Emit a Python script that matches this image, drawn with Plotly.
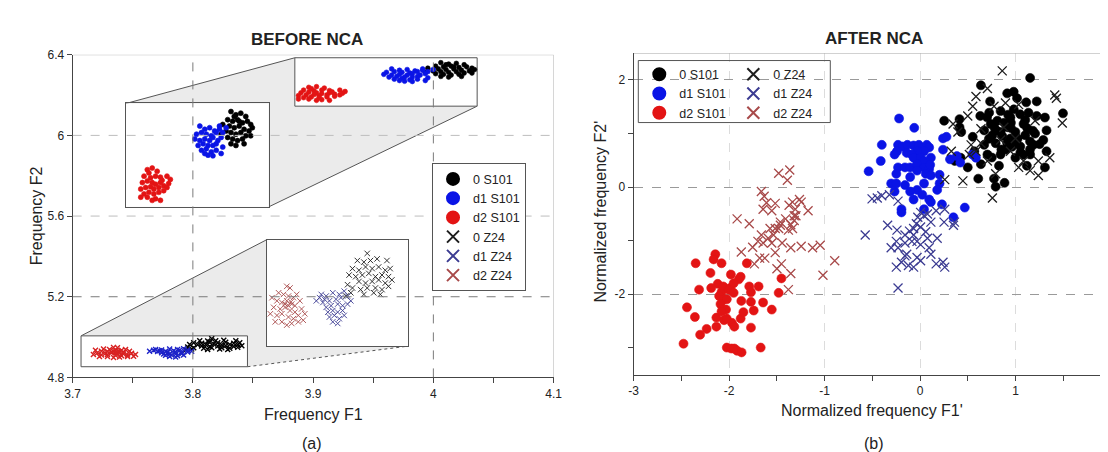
import plotly.graph_objects as go

W, H = 1108, 452
FONT = "Arial, 'Liberation Sans', Helvetica, sans-serif"
TXT = "#222222"

# ---------------- series names / colours ----------------
SERIES = ["0 S101", "d1 S101", "d2 S101", "0 Z24", "d1 Z24", "d2 Z24"]
COLORS = {"0 S101": "#000000", "d1 S101": "#0a14e6", "d2 S101": "#e31414",
          "0 Z24": "#1e1e1e", "d1 Z24": "#3c3c92", "d2 Z24": "#a84a4a"}
# colours of the dense, tiny Z24 marks inside the small zoom window of plot (a)
DENSE_COLORS = {"0 Z24": "#000000", "d1 Z24": "#1c22c8", "d2 Z24": "#d82222"}

# ================= BEFORE NCA (Frequency F1, Frequency F2) =================
before_0_s101_f1 = [4.0062, 4.0127, 4.0191, 4.0256, 4.0019, 4.0084, 4.0148, 4.0213, 4.0277, 4.0321, 3.9954,
                    4.0041, 4.0105, 4.0170, 4.0234, 4.0299, 3.9998, 4.0062, 4.0127, 4.0191, 4.0256, 4.0019,
                    4.0084, 4.0148, 4.0213, 4.0062, 4.0127, 4.0234, 3.9933, 4.0321, 4.0170, 4.0105, 4.0342]
before_0_s101_f2 = [6.3604, 6.3536, 6.3570, 6.3502, 6.3434, 6.3400, 6.3434, 6.3366, 6.3400, 6.3332, 6.3332,
                    6.3298, 6.3264, 6.3298, 6.3230, 6.3196, 6.3196, 6.3162, 6.3128, 6.3162, 6.3094, 6.3060,
                    6.3027, 6.2993, 6.3027, 6.2925, 6.2891, 6.2925, 6.3128, 6.3094, 6.3400, 6.3502, 6.3264]
before_d1_s101_f1 = [3.9653, 3.9718, 3.9782, 3.9847, 3.9610, 3.9675, 3.9739, 3.9804, 3.9868, 3.9911, 3.9954,
                     3.9588, 3.9653, 3.9718, 3.9782, 3.9825, 3.9890, 3.9933, 3.9631, 3.9696, 3.9761, 3.9825,
                     3.9868, 3.9954, 3.9675, 3.9739, 3.9804, 3.9868, 3.9761, 3.9825, 3.9933, 3.9718, 3.9998, 3.9911]
before_d1_s101_f2 = [6.3298, 6.3230, 6.3264, 6.3196, 6.3128, 6.3162, 6.3128, 6.3094, 6.3162, 6.3230, 6.3162,
                     6.3027, 6.2993, 6.3027, 6.2993, 6.3060, 6.2993, 6.3060, 6.2891, 6.2925, 6.2891, 6.2891,
                     6.2925, 6.2857, 6.2789, 6.2823, 6.2755, 6.2789, 6.2687, 6.2673, 6.2721, 6.2721, 6.3264, 6.3298]
before_d2_s101_f1 = [3.8964, 3.9028, 3.9093, 3.8921, 3.9007, 3.9072, 3.9136, 3.9222, 3.9266, 3.8899, 3.8964,
                     3.9028, 3.9072, 3.9136, 3.9179, 3.8942, 3.9007, 3.9050, 3.9115, 3.9222, 3.8878, 3.8921,
                     3.8985, 3.9050, 3.9115, 3.9179, 3.8878, 3.8964, 3.9072, 3.9136, 3.9028, 3.9244, 3.8985, 3.9158]
before_d2_s101_f2 = [6.2382, 6.2416, 6.2348, 6.2246, 6.2212, 6.2246, 6.2225, 6.2246, 6.2178, 6.2110, 6.2144,
                     6.2110, 6.2076, 6.2110, 6.2042, 6.2008, 6.2022, 6.1974, 6.2008, 6.2008, 6.1974, 6.1872,
                     6.1906, 6.1872, 6.1906, 6.1940, 6.1804, 6.1804, 6.1771, 6.1737, 6.1737, 6.2090, 6.2314, 6.2158]

before_0_z24_f1 = [3.8157, 3.8057, 3.8123, 3.8190, 3.8257, 3.8357, 3.8007, 3.8073, 3.8140, 3.8207, 3.8273,
                   3.8340, 3.8390, 3.7973, 3.8040, 3.8107, 3.8173, 3.8240, 3.8307, 3.8373, 3.8073, 3.8140,
                   3.8207, 3.8273, 3.8340, 3.8007, 3.8090, 3.8157, 3.8240, 3.8307, 3.8373, 3.7957, 3.8123,
                   3.8223, 3.8290, 3.8407, 3.7990, 3.7940]
before_0_z24_f2 = [4.9915, 4.9823, 4.9803, 4.9823, 4.9844, 4.9823, 4.9719, 4.9698, 4.9740, 4.9719, 4.9740,
                   4.9698, 4.9719, 4.9636, 4.9615, 4.9636, 4.9657, 4.9615, 4.9636, 4.9615, 4.9553, 4.9532,
                   4.9553, 4.9573, 4.9532, 4.9469, 4.9448, 4.9469, 4.9469, 4.9448, 4.9490, 4.9511, 4.9386,
                   4.9407, 4.9386, 4.9573, 4.9407, 4.9365]
before_d1_z24_f1 = [3.7690, 3.7740, 3.7807, 3.7873, 3.7923, 3.7640, 3.7707, 3.7773, 3.7840, 3.7890, 3.7957,
                    3.7740, 3.7790, 3.7857, 3.7907, 3.7757, 3.7807, 3.7857, 3.7907, 3.7773, 3.7823, 3.7873,
                    3.7923, 3.7807, 3.7857, 3.7957, 3.7990, 3.7673, 3.7723]
before_d1_z24_f2 = [4.9386, 4.9365, 4.9407, 4.9386, 4.9428, 4.9303, 4.9282, 4.9303, 4.9323, 4.9344, 4.9365,
                    4.9219, 4.9240, 4.9261, 4.9240, 4.9157, 4.9178, 4.9157, 4.9178, 4.9094, 4.9115, 4.9073,
                    4.9115, 4.9032, 4.9011, 4.9261, 4.9303, 4.9344, 4.9323]
before_d2_z24_f1 = [3.7340, 3.7373, 3.7257, 3.7307, 3.7357, 3.7407, 3.7440, 3.7190, 3.7240, 3.7290, 3.7340,
                    3.7390, 3.7423, 3.7473, 3.7207, 3.7273, 3.7323, 3.7373, 3.7423, 3.7490, 3.7173, 3.7240,
                    3.7290, 3.7357, 3.7407, 3.7457, 3.7523, 3.7223, 3.7290, 3.7340, 3.7390, 3.7457, 3.7507,
                    3.7357, 3.7323, 3.7383]
before_d2_z24_f2 = [4.9490, 4.9469, 4.9407, 4.9386, 4.9365, 4.9344, 4.9386, 4.9344, 4.9303, 4.9282, 4.9303,
                    4.9261, 4.9240, 4.9303, 4.9219, 4.9198, 4.9219, 4.9178, 4.9157, 4.9198, 4.9136, 4.9115,
                    4.9136, 4.9094, 4.9073, 4.9115, 4.9136, 4.9032, 4.9032, 4.8990, 4.9011, 4.9032, 4.9053,
                    4.9240, 4.9261, 4.9290]

# ================= AFTER NCA (Normalized F1', F2') =================
after_0_s101_f1 = [1.151, 0.636, 0.979, 0.732, 0.911, 1.014, 1.110, 1.220, 1.495, 0.251, 0.412, 0.629, 0.722,
                   0.842, 0.808, 0.945, 1.048, 1.134, 1.220, 1.306, 1.323, 0.412, 0.430, 0.550, 0.670, 0.756,
                   0.842, 0.911, 0.997, 1.100, 1.203, 1.289, 1.323, 0.670, 0.790, 0.911, 1.048, 1.186, 0.567,
                   0.704, 0.842, 0.997, 1.151, 0.636, 0.825, 1.117, 1.306, 0.608, 0.773, 0.790, 0.883, 0.423,
                   0.361, 0.498, 0.945, 1.082, 0.739, 0.860, 0.950, 1.000, 0.780, 1.120, 0.900, 1.050, 0.720,
                   1.150, 0.980, 0.700, 0.800, 0.880, 0.950, 1.020, 1.100, 1.180, 0.850, 0.960, 1.080, 1.250,
                   0.750, 0.920, 1.150]
after_0_s101_f2 = [2.036, 1.898, 1.778, 1.598, 1.748, 1.658, 1.580, 1.598, 1.375, 1.237, 1.267, 1.327, 1.387,
                   1.417, 1.237, 1.297, 1.357, 1.387, 1.327, 1.297, 1.057, 1.117, 1.027, 0.937, 1.057, 0.967,
                   1.027, 1.117, 1.027, 0.967, 0.997, 0.877, 0.667, 0.787, 0.817, 0.817, 0.757, 0.787, 0.667,
                   0.607, 0.607, 0.547, 0.607, 0.426, 0.396, 0.396, 0.366, 0.156, 0.156, 0.006, 0.078, 0.547,
                   0.487, 0.366, 0.907, 1.177, 1.177, 0.950, 1.200, 0.850, 1.100, 1.100, 0.700, 0.650, 0.900,
                   0.850, 1.450, 1.300, 1.050, 1.200, 1.100, 0.900, 1.250, 1.050, 0.700, 0.750, 0.600, 0.800,
                   0.550, 1.350, 0.700]
after_d1_s101_f1 = [-0.221, -0.062, -0.402, -0.232, -0.185, -0.134, -0.069, -0.014, 0.069, 0.094, 0.040, -0.033,
                    -0.243, -0.268, -0.141, -0.087, -0.413, -0.069, 0.004, 0.040, 0.112, 0.239, 0.239, 0.275,
                    -0.540, -0.232, -0.159, -0.105, -0.033, 0.040, 0.094, -0.250, -0.105, 0.058, 0.203, 0.112,
                    -0.304, -0.250, -0.159, -0.268, 0.040, 0.203, -0.033, -0.069, 0.094, 0.112, 0.228, -0.196,
                    0.040, -0.196, 0.348, 0.467, 0.312, 0.384, 0.420, 0.547, 0.583, 0.022, -0.105, 0.105,
                    -0.033, 0.178]
after_d1_s101_f2 = [1.279, 1.105, 0.787, 0.787, 0.757, 0.787, 0.775, 0.787, 0.787, 0.739, 0.667, 0.667,
                    0.667, 0.607, 0.637, 0.607, 0.486, 0.547, 0.547, 0.486, 0.547, 0.697, 0.907, 0.937,
                    0.294, 0.366, 0.366, 0.366, 0.426, 0.366, 0.336, 0.246, 0.186, 0.246, 0.228, 0.216,
                    0.066, 0.066, 0.036, -0.084, 0.066, 0.066, -0.054, -0.234, -0.234, -0.282, -0.324, -0.414,
                    -0.414, -0.474, -0.565, -0.384, 0.517, 0.577, 0.456, 0.607, 0.547, -0.144, -0.084, 0.414,
                    0.306, -0.054]
after_d2_s101_f1 = [-2.478, -2.351, -2.442, -2.315, -2.359, -2.304, -2.236, -2.134, -2.145, -2.163, -2.196,
                    -2.120, -2.080, -2.062, -2.105, -2.054, -2.007, -1.989, -1.953, -2.025, -2.033, -2.091,
                    -2.134, -2.080, -2.054, -1.971, -1.946, -2.025, -1.978, -1.946, -1.917, -1.870, -1.880,
                    -1.851, -1.873, -1.899, -1.880, -1.815, -1.790, -1.772, -1.772, -1.772, -1.743, -1.692,
                    -1.645, -1.554, -1.670, -1.482, -1.453, -2.080, -2.188, -1.953, -1.982, -2.025]
after_d2_s101_f2 = [-2.925, -1.423, -2.246, -1.916, -2.426, -2.757, -2.649, -2.607, -1.255, -1.351, -1.604,
                    -1.808, -1.958, -1.856, -2.036, -2.096, -1.916, -1.886, -1.976, -2.096, -2.288, -2.186,
                    -2.438, -2.324, -2.486, -2.535, -2.607, -2.997, -3.015, -3.015, -3.057, -3.087, -2.456,
                    -2.336, -2.126, -1.724, -1.676, -1.423, -1.856, -1.964, -2.625, -2.144, -2.306, -1.856,
                    -2.156, -2.288, -2.997, -1.976, -1.706, -1.423, -1.886, -1.796, -1.634, -2.456]

after_0_z24_f1 = [0.859, 0.704, 0.584, 0.550, 0.498, 0.344, 0.395, 1.409, 1.426, 1.488, 0.893, 1.031, 1.203,
                  1.357, 1.237, 1.151, 0.447, 0.756, 0.636, 0.533, 0.584, 0.704, 0.945, 0.997, 0.842, 0.636,
                  1.031, 1.082, 1.237, 0.790, 0.326, 0.515, 0.876, 0.773, 0.257]
after_0_z24_f2 = [2.168, 1.838, 1.688, 1.508, 1.327, 1.177, 1.027, 1.718, 1.658, 1.195, 1.568, 1.538, 1.237,
                  0.547, 0.216, 0.306, 0.114, -0.204, 0.817, 0.787, 0.667, 0.487, 0.667, 0.907, 0.877, 1.087,
                  0.366, 0.487, 0.487, 0.246, 0.667, 0.607, 1.117, 1.508, 0.138]
after_d1_z24_f1 = [-0.504, -0.449, -0.402, -0.232, -0.322, -0.576, -0.341, -0.243, -0.159, -0.112, -0.069,
                   -0.040, -0.025, 0.004, 0.076, 0.167, 0.257, 0.359, 0.348, 0.250, 0.112, 0.040, -0.087,
                   -0.159, -0.304, -0.232, -0.141, -0.033, 0.004, 0.094, 0.178, 0.076, -0.159, -0.196, -0.250,
                   -0.123, -0.069, -0.033, 0.004, 0.167, 0.239, 0.257, -0.232, -0.069, 0.058, 0.004, -0.250,
                   0.112]
after_d1_z24_f2 = [-0.222, -0.204, -0.162, -0.264, -0.144, -0.895, -0.715, -0.805, -0.895, -0.823, -0.775,
                   -0.685, -0.565, -0.474, -0.505, -0.444, -0.414, -0.655, -0.715, -0.655, -0.655, -0.535,
                   -1.015, -1.045, -1.135, -1.135, -1.255, -1.015, -1.075, -1.135, -0.955, -0.955, -1.285,
                   -1.405, -1.495, -1.465, -1.495, -1.315, -1.375, -1.435, -1.405, -1.495, -1.886, -0.895,
                   -0.835, -0.745, -1.015, -1.255]
after_d2_z24_f1 = [-1.482, -1.366, -1.391, -1.663, -1.634, -1.609, -1.518, -1.554, -1.645, -1.373, -1.337,
                   -1.308, -1.264, -1.246, -1.174, -1.319, -1.409, -1.464, -1.355, -1.337, -1.380, -1.482,
                   -1.518, -1.572, -1.536, -1.663, -1.645, -1.754, -1.873, -1.917, -1.790, -1.591, -1.464,
                   -1.319, -1.301, -1.446, -1.518, -1.627, -1.681, -1.736, -1.500, -1.453, -1.355, -1.246,
                   -1.127, -1.047, -0.895, -1.018, -1.355, -1.380, -1.554, -1.699]
after_d2_z24_f2 = [0.258, 0.318, 0.126, -0.084, -0.174, -0.294, -0.306, -0.444, -0.414, -0.342, -0.282,
                   -0.414, -0.234, -0.282, -0.444, -0.535, -0.595, -0.655, -0.703, -0.775, -0.805, -0.775,
                   -0.775, -0.775, -0.895, -0.895, -1.045, -1.123, -1.213, -0.595, -0.685, -0.955, -0.715,
                   -0.625, -0.535, -1.045, -1.225, -1.327, -1.327, -1.435, -1.526, -1.435, -1.135, -1.105,
                   -1.135, -1.087, -1.375, -1.646, -1.616, -1.916, -1.045, -1.015]

# ---------------- axis ranges / ticks ----------------
A_X_RANGE = [3.7, 4.1]
A_Y_RANGE = [4.8, 6.4]
A_X_TICKS = [3.7, 3.8, 3.9, 4.0, 4.1]
A_X_TICKTEXT = ["3.7", "3.8", "3.9", "4", "4.1"]
A_X_MINOR = [3.75, 3.85, 3.95, 4.05]
A_Y_TICKS = [4.8, 5.2, 5.6, 6.0, 6.4]
A_Y_TICKTEXT = ["4.8", "5.2", "5.6", "6", "6.4"]
A_VGRID = [3.8, 4.0]
A_HGRID_DARK = [5.2]
A_HGRID_LIGHT = [5.6, 6.0]

B_X_RANGE = [-3.0, 1.956]
B_Y_RANGE = [-3.5, 2.5]
B_X_TICKS = [-3, -2, -1, 0, 1]
B_X_TICKTEXT = ["-3", "-2", "-1", "0", "1"]
B_X_MINOR = [-2.5, -1.5, -0.5, 0.5, 1.5]
B_Y_TICKS = [-2, 0, 2]
B_Y_TICKTEXT = ["-2", "0", "2"]
B_Y_MINOR = [-3, -1, 1]

# zoom windows in the BEFORE plot (data units) and the inset views of them
S101_WIN_X, S101_WIN_Y = [3.8848, 4.0364], [6.145, 6.385]
Z24_WIN_X, Z24_WIN_Y = [3.707, 3.8454], [4.853, 5.006]
S101_INSET_X, S101_INSET_Y = [3.8684, 4.0558], [6.160, 6.3774]
Z24_INSET_X, Z24_INSET_Y = [3.714, 3.8573], [4.8719, 5.0094]

# ---------------- layout geometry (pixels) ----------------
A_BOX = (57.5, 546.0, 41.0, 374.0)      # x0, x1, top, bottom
B_BOX = (627.3, 1108.0, 39.3, 371.0)
S101_INSET_BOX = (111.7, 256.7, 91.3, 198.0)
Z24_INSET_BOX = (255.0, 398.3, 231.7, 341.7)


def dx(b):
    return [b[0] / W, b[1] / W]


def dy(b):
    return [1 - b[3] / H, 1 - b[2] / H]


def px2paper(px, py):
    return px / W, 1 - py / H


def a_data2px(x, y):
    px = A_BOX[0] + (x - A_X_RANGE[0]) / (A_X_RANGE[1] - A_X_RANGE[0]) * (A_BOX[1] - A_BOX[0])
    py = A_BOX[2] + (A_Y_RANGE[1] - y) / (A_Y_RANGE[1] - A_Y_RANGE[0]) * (A_BOX[3] - A_BOX[2])
    return px, py


before = {
    "0 S101": (before_0_s101_f1, before_0_s101_f2),
    "d1 S101": (before_d1_s101_f1, before_d1_s101_f2),
    "d2 S101": (before_d2_s101_f1, before_d2_s101_f2),
    "0 Z24": (before_0_z24_f1, before_0_z24_f2),
    "d1 Z24": (before_d1_z24_f1, before_d1_z24_f2),
    "d2 Z24": (before_d2_z24_f1, before_d2_z24_f2),
}
after = {
    "0 S101": (after_0_s101_f1, after_0_s101_f2),
    "d1 S101": (after_d1_s101_f1, after_d1_s101_f2),
    "d2 S101": (after_d2_s101_f1, after_d2_s101_f2),
    "0 Z24": (after_0_z24_f1, after_0_z24_f2),
    "d1 Z24": (after_d1_z24_f1, after_d1_z24_f2),
    "d2 Z24": (after_d2_z24_f1, after_d2_z24_f2),
}


def marker(name, size, lw, color=None):
    c = color or COLORS[name]
    if "S101" in name:
        return dict(symbol="circle", size=size, color=c, line=dict(width=0.6, color=c))
    return dict(symbol="x-thin", size=size, color=c, line=dict(width=lw, color=c))


fig = go.Figure()

# BEFORE: main view
for name in SERIES:
    x, y = before[name]
    if "S101" in name:
        fig.add_trace(go.Scatter(x=x, y=y, mode="markers", name=name, xaxis="x", yaxis="y",
                                 legend="legend", marker=marker(name, 4.8, 1)))
    else:
        # dense tiny marks in the zoom window (no legend); legend entry added separately below
        fig.add_trace(go.Scatter(x=x, y=y, mode="markers", name=name, xaxis="x", yaxis="y",
                                 showlegend=False, marker=marker(name, 5, 1.4, DENSE_COLORS[name])))
for name in SERIES:
    if "Z24" in name:
        # legend-only entry (no visible point)
        fig.add_trace(go.Scatter(x=[None], y=[None], mode="markers", name=name, xaxis="x", yaxis="y",
                                 legend="legend", showlegend=True, marker=marker(name, 9, 1.3)))
# BEFORE: inset views
for name in SERIES:
    x, y = before[name]
    if "S101" in name:
        fig.add_trace(go.Scatter(x=x, y=y, mode="markers", showlegend=False, xaxis="x3", yaxis="y3",
                                 marker=marker(name, 5, 1)))
    else:
        fig.add_trace(go.Scatter(x=x, y=y, mode="markers", showlegend=False, xaxis="x4", yaxis="y4",
                                 marker=marker(name, 5.5, 0.9)))

# AFTER
for name in SERIES:
    x, y = after[name]
    fig.add_trace(go.Scatter(x=x, y=y, mode="markers", name=name, xaxis="x2", yaxis="y2",
                             legend="legend2" if "S101" in name else "legend3",
                             marker=marker(name, 9, 1.3)))

axis_font = dict(family=FONT, size=12, color=TXT)
common = dict(showgrid=False, zeroline=False, ticks="outside", ticklen=5, tickwidth=1,
              tickcolor="#444", showline=True, linecolor="#444", linewidth=1, tickfont=axis_font)

shapes = []
# --- shaded zoom funnels (below) ---
s_tl = a_data2px(S101_WIN_X[0], S101_WIN_Y[1])
s_tr = a_data2px(S101_WIN_X[1], S101_WIN_Y[1])
s_br = a_data2px(S101_WIN_X[1], S101_WIN_Y[0])
ib = S101_INSET_BOX
poly = [(ib[0], ib[3]), (ib[0], ib[2]), s_tl, s_tr, s_br, (ib[1], ib[3])]
path = "M " + " L ".join("%.5f,%.5f" % px2paper(*p) for p in poly) + " Z"
shapes.append(dict(type="path", xref="paper", yref="paper", path=path, fillcolor="#ebebeb",
                   line=dict(width=0), layer="below"))
z_tl = a_data2px(Z24_WIN_X[0], Z24_WIN_Y[1])
z_bl = a_data2px(Z24_WIN_X[0], Z24_WIN_Y[0])
z_br = a_data2px(Z24_WIN_X[1], Z24_WIN_Y[0])
jb = Z24_INSET_BOX
poly2 = [z_bl, z_tl, (jb[0], jb[2]), (jb[1], jb[2]), (jb[1], jb[3]), z_br]
path2 = "M " + " L ".join("%.5f,%.5f" % px2paper(*p) for p in poly2) + " Z"
shapes.append(dict(type="path", xref="paper", yref="paper", path=path2, fillcolor="#ebebeb",
                   line=dict(width=0), layer="below"))
# connectors
for (p0, p1, dash) in [((ib[0], ib[2]), s_tl, "solid"), ((ib[1], ib[3]), s_br, "solid"),
                       (z_tl, (jb[0], jb[2]), "solid"), (z_br, (jb[1], jb[3]), "dot")]:
    a0 = px2paper(*p0)
    a1 = px2paper(*p1)
    shapes.append(dict(type="line", xref="paper", yref="paper", x0=a0[0], y0=a0[1], x1=a1[0], y1=a1[1],
                       line=dict(color="#555555", width=1, dash=dash), layer="below"))
# white zoom-window boxes
for wx, wy in [(S101_WIN_X, S101_WIN_Y), (Z24_WIN_X, Z24_WIN_Y)]:
    shapes.append(dict(type="rect", xref="x", yref="y", x0=wx[0], x1=wx[1], y0=wy[0], y1=wy[1],
                       fillcolor="white", line=dict(color="#555555", width=1), layer="below"))
# dashed grid of BEFORE plot (drawn over the insets)
for gx in A_VGRID:
    shapes.append(dict(type="line", xref="x", yref="y", x0=gx, x1=gx, y0=A_Y_RANGE[0], y1=A_Y_RANGE[1],
                       line=dict(color="#7a7a7a", width=1, dash="dash"), layer="above"))
for gy in A_HGRID_DARK + A_HGRID_LIGHT:
    col = "#7a7a7a" if gy in A_HGRID_DARK else "#bdbdbd"
    shapes.append(dict(type="line", xref="x", yref="y", x0=A_X_RANGE[0], x1=A_X_RANGE[1], y0=gy, y1=gy,
                       line=dict(color=col, width=1, dash="dash"), layer="above"))
# light top/right frame of BEFORE plot, top frame of AFTER plot
shapes.append(dict(type="line", xref="x", yref="y", x0=A_X_RANGE[0], x1=A_X_RANGE[1], y0=A_Y_RANGE[1],
                   y1=A_Y_RANGE[1], line=dict(color="#b5b5b5", width=1)))
shapes.append(dict(type="line", xref="x", yref="y", x0=A_X_RANGE[1], x1=A_X_RANGE[1], y0=A_Y_RANGE[0],
                   y1=A_Y_RANGE[1], line=dict(color="#b5b5b5", width=1)))
shapes.append(dict(type="line", xref="x2", yref="y2", x0=B_X_RANGE[0], x1=B_X_RANGE[1], y0=B_Y_RANGE[1],
                   y1=B_Y_RANGE[1], line=dict(color="#b0b0b0", width=1)))
# legend frame of AFTER plot
lb = (632, 827, 47, 111)
l0 = px2paper(lb[0], lb[3])
l1 = px2paper(lb[1], lb[2])
shapes.append(dict(type="rect", xref="paper", yref="paper", x0=l0[0], y0=l0[1], x1=l1[0], y1=l1[1],
                   line=dict(color="#555555", width=1), fillcolor="rgba(0,0,0,0)", layer="above"))

inset_axis = dict(showgrid=False, zeroline=False, showticklabels=False, ticks="", showline=True,
                  mirror=True, linecolor="#555555", linewidth=1, fixedrange=True)

annotations = []


def ann(text, px, py, size=16, bold=False, angle=0):
    x, y = px2paper(px, py)
    annotations.append(dict(text=("<b>%s</b>" % text) if bold else text, x=x, y=y, xref="paper",
                            yref="paper", showarrow=False, xanchor="center", yanchor="middle",
                            textangle=angle, font=dict(family=FONT, size=size, color=TXT)))


ann("BEFORE NCA", 296, 25, size=17, bold=True)
ann("AFTER NCA", 871, 24, size=17, bold=True)
ann("Frequency F1", 302, 412)
ann("Frequency F2", 21, 207, angle=-90)
ann("(a)", 301, 442)
ann("Normalized frequency F1'", 869, 408)
ann("Normalized frequency F2'", 594, 203, angle=-90)
ann("(b)", 871, 442)

leg_font = dict(family=FONT, size=12.5, color=TXT)
la = px2paper(422.5, 153)
lg2 = px2paper(633, 46)
lg3 = px2paper(728.5, 46)

fig.update_layout(
    width=W, height=H, margin=dict(l=0, r=0, t=0, b=0),
    paper_bgcolor="white", plot_bgcolor="white",
    font=dict(family=FONT, color=TXT),
    xaxis=dict(domain=dx(A_BOX), range=A_X_RANGE, tickvals=A_X_TICKS, ticktext=A_X_TICKTEXT,
               minor=dict(tickvals=A_X_MINOR, ticklen=5, tickcolor="#444", ticks="outside"),
               anchor="y", **common),
    yaxis=dict(domain=dy(A_BOX), range=A_Y_RANGE, tickvals=A_Y_TICKS, ticktext=A_Y_TICKTEXT,
               anchor="x", **common),
    xaxis2=dict(domain=dx(B_BOX), range=B_X_RANGE, tickvals=B_X_TICKS, ticktext=B_X_TICKTEXT,
                minor=dict(tickvals=B_X_MINOR, ticklen=5, tickcolor="#444", ticks="outside"),
                anchor="y2", **{**common, "showgrid": True}, gridcolor="#dcdcdc", griddash="dash", gridwidth=1),
    yaxis2=dict(domain=dy(B_BOX), range=B_Y_RANGE, tickvals=B_Y_TICKS, ticktext=B_Y_TICKTEXT,
                minor=dict(tickvals=B_Y_MINOR, ticklen=5, tickcolor="#444", ticks="outside"),
                anchor="x2", **{**common, "showgrid": True}, gridcolor="#9a9a9a", griddash="dash", gridwidth=1),
    xaxis3=dict(domain=dx(S101_INSET_BOX), range=S101_INSET_X, anchor="y3", **inset_axis),
    yaxis3=dict(domain=dy(S101_INSET_BOX), range=S101_INSET_Y, anchor="x3", **inset_axis),
    xaxis4=dict(domain=dx(Z24_INSET_BOX), range=Z24_INSET_X, anchor="y4", **inset_axis),
    yaxis4=dict(domain=dy(Z24_INSET_BOX), range=Z24_INSET_Y, anchor="x4", **inset_axis),
    legend=dict(x=la[0], y=la[1], xanchor="left", yanchor="top", bgcolor="white",
                bordercolor="#555555", borderwidth=1, font=leg_font, itemsizing="constant",
                tracegroupgap=0),
    legend2=dict(x=lg2[0], y=lg2[1], xanchor="left", yanchor="top", bgcolor="rgba(0,0,0,0)",
                 borderwidth=0, font=leg_font, itemsizing="constant"),
    legend3=dict(x=lg3[0], y=lg3[1], xanchor="left", yanchor="top", bgcolor="rgba(0,0,0,0)",
                 borderwidth=0, font=leg_font, itemsizing="constant"),
    shapes=shapes, annotations=annotations, showlegend=True,
)

fig.write_html("out.html")
